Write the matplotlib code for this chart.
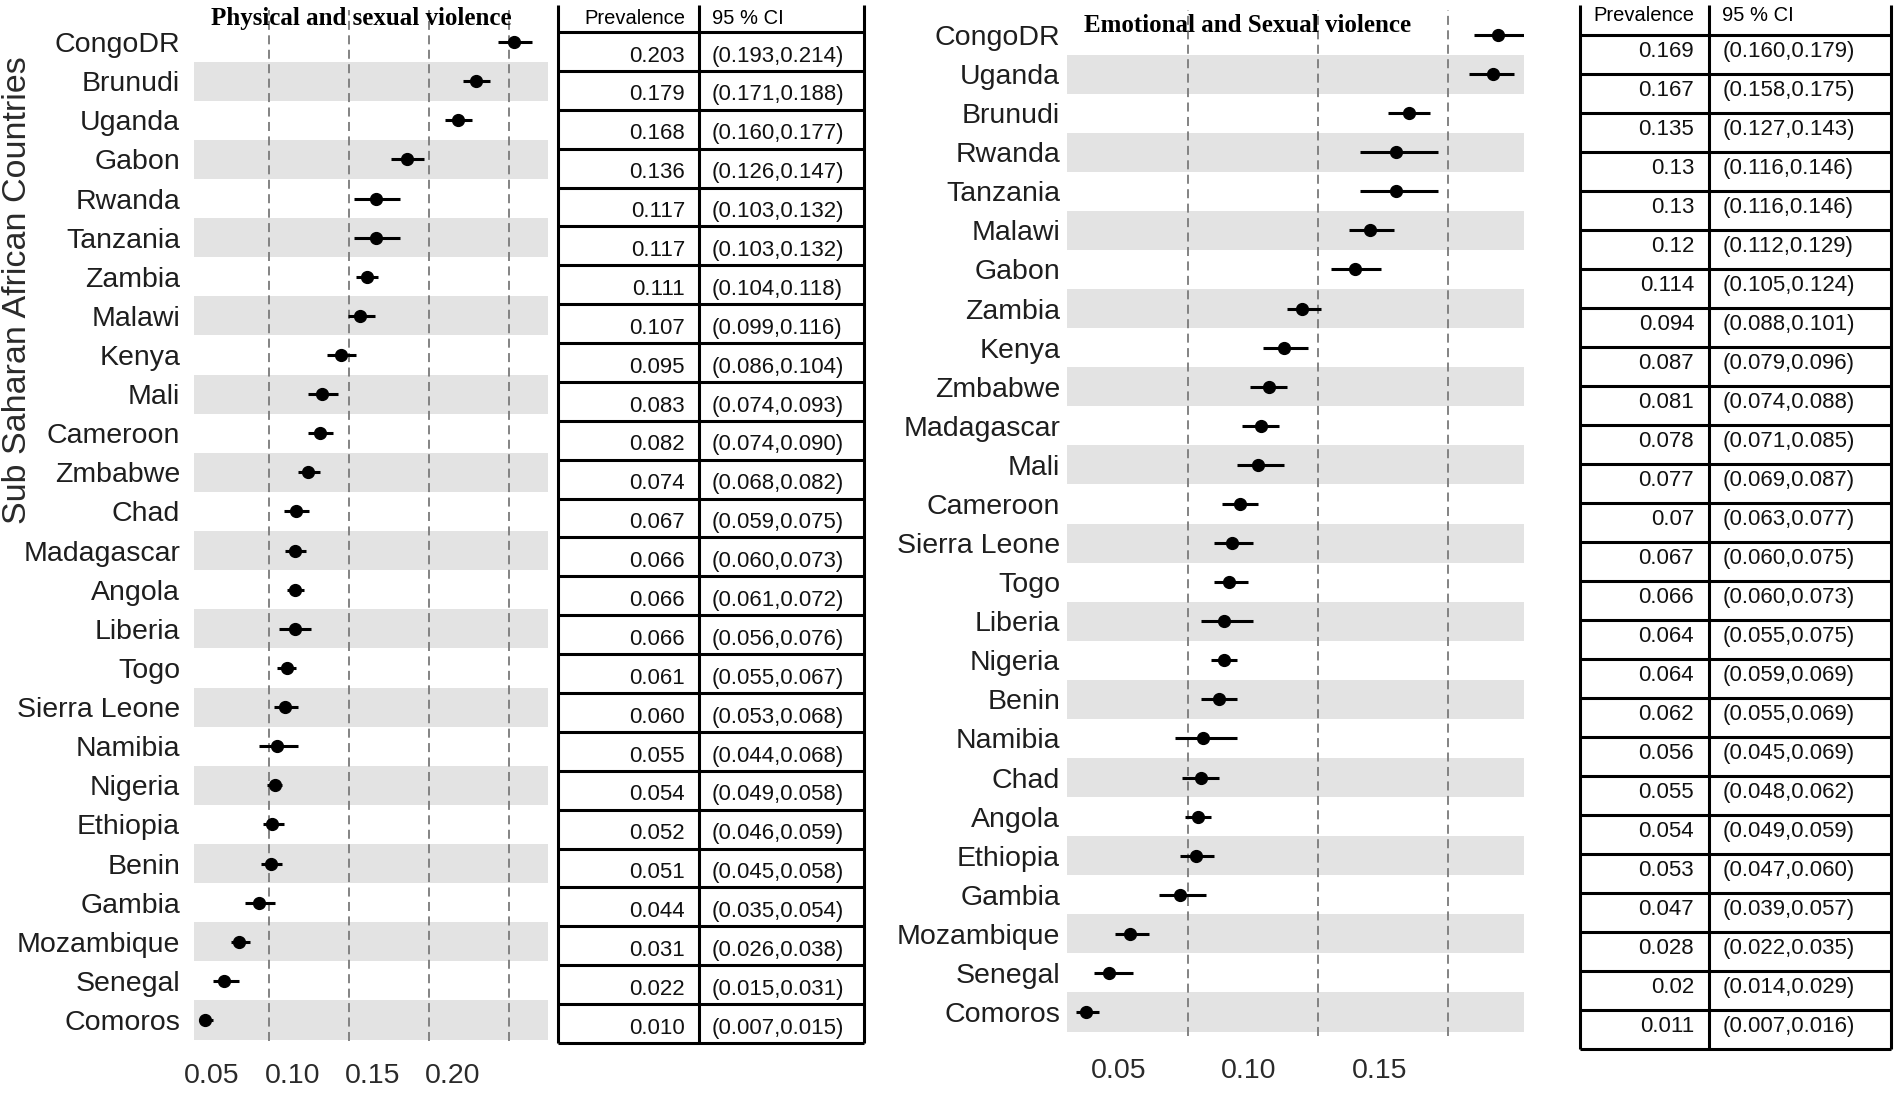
import matplotlib
matplotlib.use("Agg")
import matplotlib.pyplot as plt
import matplotlib.transforms as mtransforms
import numpy as np

# physical and sexual violence (left)
phys_countries = ["CongoDR", "Brunudi", "Uganda", "Gabon", "Rwanda", "Tanzania", "Zambia", "Malawi",
                  "Kenya", "Mali", "Cameroon", "Zmbabwe", "Chad", "Madagascar", "Angola", "Liberia",
                  "Togo", "Sierra Leone", "Namibia", "Nigeria", "Ethiopia", "Benin", "Gambia",
                  "Mozambique", "Senegal", "Comoros"]
phys_prev = ["0.203", "0.179", "0.168", "0.136", "0.117", "0.117", "0.111", "0.107", "0.095", "0.083",
             "0.082", "0.074", "0.067", "0.066", "0.066", "0.066", "0.061", "0.060", "0.055", "0.054",
             "0.052", "0.051", "0.044", "0.031", "0.022", "0.010"]
phys_lo = [0.193, 0.171, 0.160, 0.126, 0.103, 0.103, 0.104, 0.099, 0.086, 0.074, 0.074, 0.068, 0.059,
           0.060, 0.061, 0.056, 0.055, 0.053, 0.044, 0.049, 0.046, 0.045, 0.035, 0.026, 0.015, 0.007]
phys_hi = [0.214, 0.188, 0.177, 0.147, 0.132, 0.132, 0.118, 0.116, 0.104, 0.093, 0.090, 0.082, 0.075,
           0.073, 0.072, 0.076, 0.067, 0.068, 0.068, 0.058, 0.059, 0.058, 0.054, 0.038, 0.031, 0.015]

# emotional and sexual violence (right)
emo_countries = ["CongoDR", "Uganda", "Brunudi", "Rwanda", "Tanzania", "Malawi", "Gabon", "Zambia",
                 "Kenya", "Zmbabwe", "Madagascar", "Mali", "Cameroon", "Sierra Leone", "Togo", "Liberia",
                 "Nigeria", "Benin", "Namibia", "Chad", "Angola", "Ethiopia", "Gambia", "Mozambique",
                 "Senegal", "Comoros"]
emo_prev = ["0.169", "0.167", "0.135", "0.13", "0.13", "0.12", "0.114", "0.094", "0.087", "0.081",
            "0.078", "0.077", "0.07", "0.067", "0.066", "0.064", "0.064", "0.062", "0.056", "0.055",
            "0.054", "0.053", "0.047", "0.028", "0.02", "0.011"]
emo_lo = [0.160, 0.158, 0.127, 0.116, 0.116, 0.112, 0.105, 0.088, 0.079, 0.074, 0.071, 0.069, 0.063,
          0.060, 0.060, 0.055, 0.059, 0.055, 0.045, 0.048, 0.049, 0.047, 0.039, 0.022, 0.014, 0.007]
emo_hi = [0.179, 0.175, 0.143, 0.146, 0.146, 0.129, 0.124, 0.101, 0.096, 0.088, 0.085, 0.087, 0.077,
          0.075, 0.073, 0.075, 0.069, 0.069, 0.069, 0.062, 0.059, 0.060, 0.057, 0.035, 0.029, 0.016]

grid_ticks = [0.05, 0.10, 0.15, 0.20]

plt.rcParams['font.family'] = ['Liberation Sans', 'DejaVu Sans']

W, H = 1902, 1093
fig = plt.figure(figsize=(W / 100, H / 100), dpi=100)


def px_axes(x0, y0, x1, y1):
    # pixel box (top-left origin) -> axes
    return fig.add_axes([x0 / W, 1 - y1 / H, (x1 - x0) / W, (y1 - y0) / H])


def forest(ax, countries, prev, lo, hi, xlim, ylim, label_pad, shift_px):
    n = len(countries)
    y = np.arange(n)[::-1]
    vals = [float(v) for v in prev]
    for i in range(n):
        if i % 2 == 1:
            ax.axhspan(y[i] - 0.5, y[i] + 0.5, color='#e3e3e3', lw=0, zorder=0)
    ax.hlines(y, lo, hi, color='black', lw=2.2, zorder=3)
    ax.plot(vals, y, 'o', color='black', ms=8.5, zorder=4)
    ax.set_xlim(*xlim)
    ax.set_ylim(*ylim)
    ax.set_xticks([t for t in grid_ticks if xlim[0] < t < xlim[1]])
    ax.set_xticklabels(["%.2f" % t for t in grid_ticks if xlim[0] < t < xlim[1]])
    ax.grid(axis='x', color='#7a7a7a', lw=1.3, ls=(0, (5, 3)), zorder=1)
    ax.set_axisbelow(True)
    ax.set_yticks(y)
    ax.set_yticklabels(countries)
    for s in ax.spines.values():
        s.set_visible(False)
    ax.tick_params(axis='y', length=0, pad=label_pad, labelsize=20.5, labelcolor='#1e1e1e')
    ax.tick_params(axis='x', length=0, pad=16, labelsize=20.5, labelcolor='#2a2a2a')
    # tick labels sit left of their grid lines in the original figure
    off = mtransforms.ScaledTranslation(-shift_px / 100, 0, fig.dpi_scale_trans)
    for lab in ax.get_xticklabels():
        lab.set_transform(lab.get_transform() + off)


def table(ax, prev, lo, hi, head_h, div, val_x, ci_x, text_dy, head_dy):
    n = len(prev)
    ax.set_xlim(0, 1)
    ax.set_ylim(n, -head_h)
    ax.axis('off')
    ax.hlines(np.arange(n + 1), 0, 1, color='black', lw=2.2, clip_on=False)
    ax.vlines([0, div, 1], -head_h, n, color='black', lw=2.2, clip_on=False)
    ax.text(val_x, -head_h / 2 + head_dy, "Prevalence", ha='right', va='center', fontsize=14.5)
    ax.text(ci_x, -head_h / 2 + head_dy, "95 % CI", ha='left', va='center', fontsize=14.5)
    for k in range(n):
        yy = k + 0.5 + text_dy
        ax.text(val_x, yy, prev[k], ha='right', va='center', fontsize=16, color='#111111')
        ax.text(ci_x, yy, "(%.3f,%.3f)" % (lo[k], hi[k]), ha='left', va='center',
                fontsize=16, color='#111111')


# left forest plot
ax1 = px_axes(194, 10, 548, 1041)
forest(ax1, phys_countries, phys_prev, phys_lo, phys_hi, (0.0031, 0.2242), (-0.537, 25.82), 10, 57)
fig.text(361 / W, 1 - 18 / H, "Physical and sexual violence", ha='center', va='center',
         family='Liberation Serif', fontweight='bold', fontsize=18)

# left table
t1 = px_axes(558, 5, 864, 1043)
table(t1, phys_prev, phys_lo, phys_hi, 0.694, 0.461, 0.415, 0.503, 0.12, 0.0)

# right forest plot
ax2 = px_axes(1067, 10, 1524, 1036)
forest(ax2, emo_countries, emo_prev, emo_lo, emo_hi, (0.0037, 0.179), (-0.614, 25.64), 5, 69)
fig.text(1248 / W, 1 - 26 / H, "Emotional and Sexual violence", ha='center', va='center',
         family='Liberation Serif', fontweight='bold', fontsize=18)

# right table
t2 = px_axes(1580, 5, 1891, 1049)
table(t2, emo_prev, emo_lo, emo_hi, 0.769, 0.415, 0.367, 0.457, -0.08, -0.12)

fig.text(18 / W, 1 - 290 / H, "Sub Saharan African Countries", rotation=90, ha='center',
         va='center', fontsize=24.5, color='#2a2a2a')

fig.savefig("out.png", dpi=100)
